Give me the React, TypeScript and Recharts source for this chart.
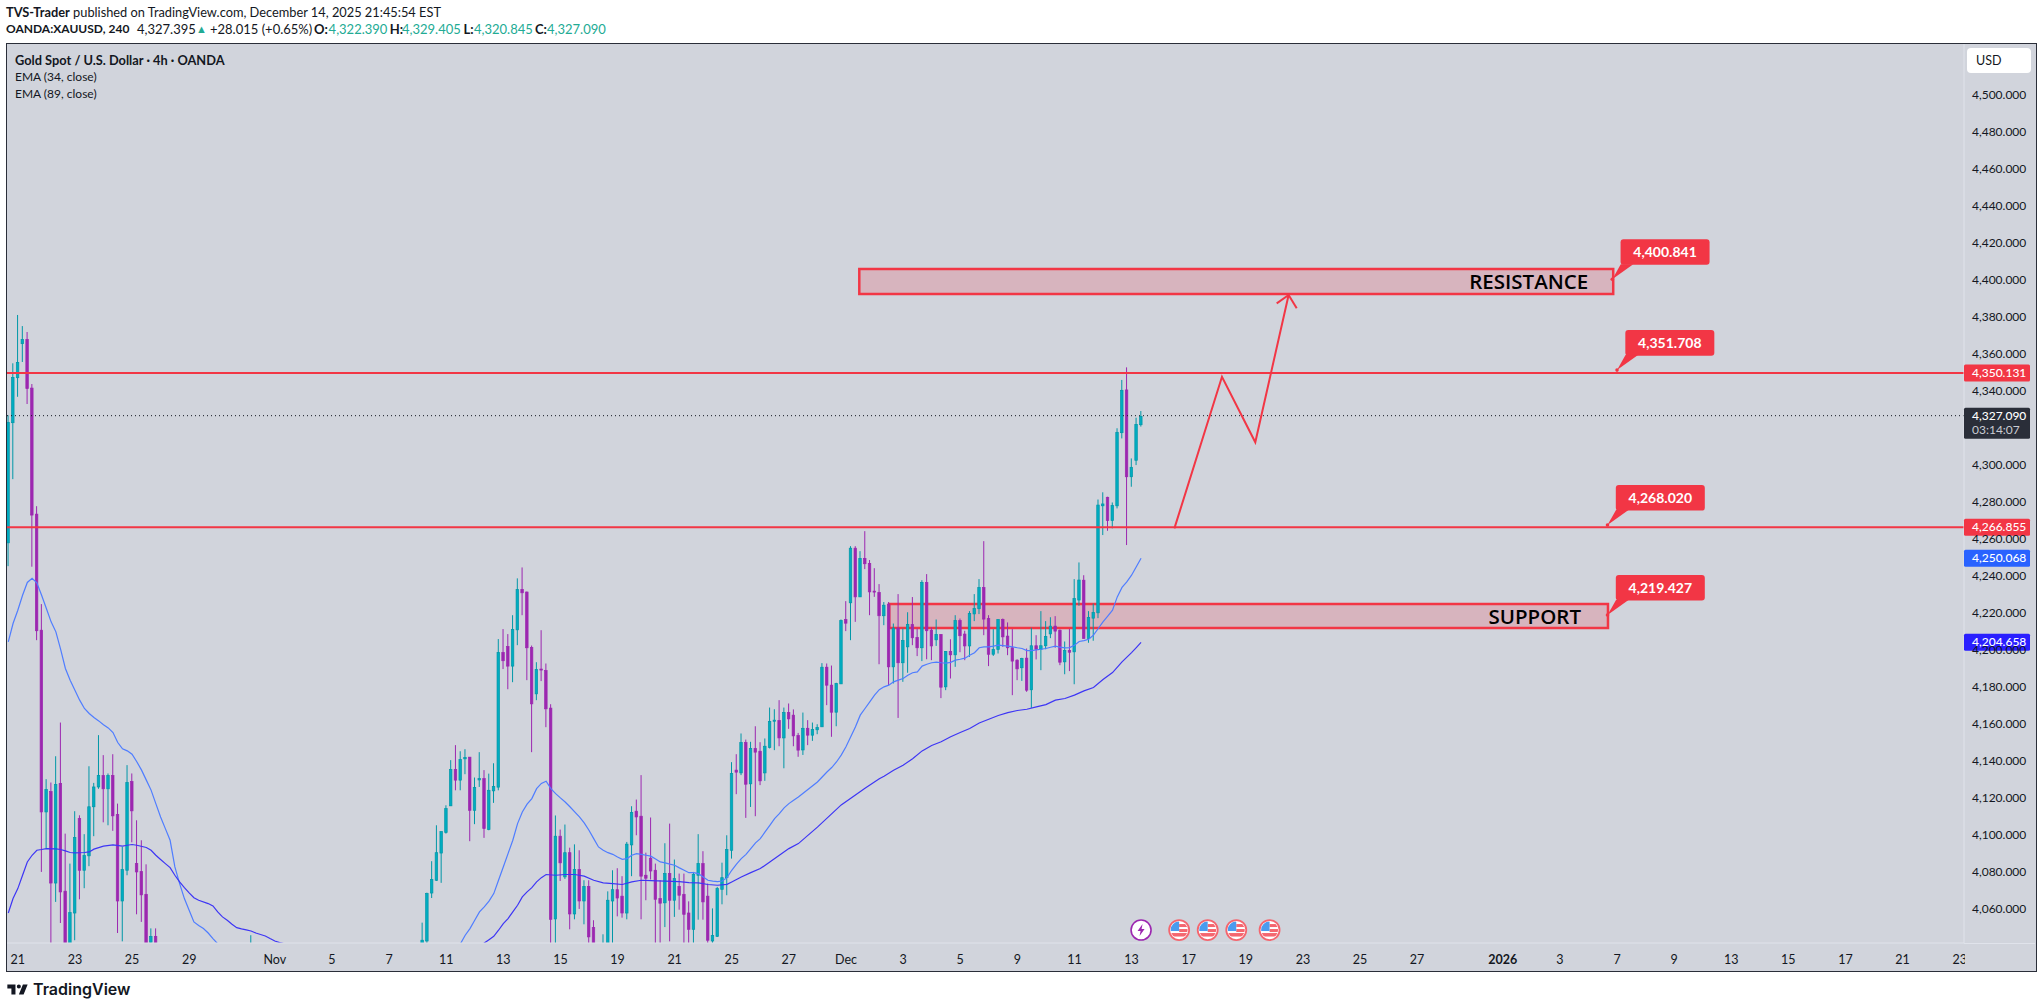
import { ComposedChart, Bar, Line, XAxis, YAxis, ReferenceLine, ReferenceArea, ReferenceDot } from 'recharts';

const BG = '#D1D4DC';
const RED = '#F23645';
const TEAL = '#00ACC1';
const TEAL_EDGE = '#0097A7';
const PURPLE = '#9C27B0';
const TEXT = '#131722';
const FONT = 'Lato, sans-serif';

// [candle index, open, high, low, close], 4h bars
// wicks and bodies that leave the bottom of the pane are only guesses
const octoberCandles = [
  [0, 4257.6, 4326.5, 4245.0, 4322.7], [1, 4322.5, 4354.6, 4292.0, 4347.0], [2, 4346.8, 4380.7, 4336.5, 4355.1],
  [3, 4365.2, 4374.7, 4355.3, 4367.5], [4, 4367.5, 4371.5, 4332.6, 4340.9], [5, 4341.2, 4343.4, 4244.7, 4272.6],
  [6, 4273.1, 4277.4, 4205.0, 4210.1], [7, 4210.4, 4224.5, 4079.8, 4112.2], [8, 4112.2, 4129.9, 4092.4, 4124.3],
  [9, 4123.2, 4128.1, 4035.0, 4073.8], [10, 4073.8, 4142.3, 4063.6, 4127.0], [11, 4127.6, 4160.5, 4052.2, 4069.0],
  [12, 4069.4, 4100.5, 4020.0, 4030.0], [13, 4030.0, 4084.3, 4020.0, 4057.8], [14, 4057.6, 4112.6, 4042.9, 4098.4],
  [15, 4108.6, 4110.4, 4065.0, 4080.7], [16, 4080.7, 4100.2, 4071.0, 4088.6], [17, 4088.5, 4136.9, 4082.9, 4115.0],
  [18, 4115.0, 4127.9, 4099.1, 4125.7], [19, 4125.7, 4153.7, 4124.7, 4131.9], [20, 4131.9, 4142.9, 4106.6, 4124.7],
  [21, 4124.7, 4133.0, 4105.0, 4131.9], [22, 4131.9, 4143.4, 4102.0, 4110.1], [23, 4110.8, 4116.7, 4046.8, 4064.1],
  [24, 4064.1, 4093.3, 4042.3, 4081.1], [25, 4080.7, 4137.5, 4078.0, 4128.1], [26, 4128.6, 4133.0, 4095.8, 4112.8],
  [27, 4084.3, 4107.7, 4056.9, 4079.8], [28, 4080.0, 4096.9, 4052.8, 4067.4], [29, 4067.7, 4083.9, 4030.0, 4038.0],
  [30, 4041.8, 4049.3, 4035.0, 4045.0], [31, 4045.0, 4049.3, 4030.0, 4036.0], [51, 4025.0, 4045.6, 4020.0, 4035.0],
];

const novemberCandles = [
  [87, 4035.0, 4052.4, 4030.0, 4042.9], [88, 4042.5, 4068.6, 4041.0, 4068.1], [89, 4068.4, 4085.6, 4065.7, 4075.7],
  [90, 4075.3, 4105.0, 4074.9, 4090.2], [91, 4090.0, 4101.6, 4073.9, 4101.6], [92, 4101.1, 4115.8, 4100.5, 4114.0],
  [93, 4115.5, 4140.2, 4115.4, 4135.1], [94, 4135.1, 4148.3, 4123.9, 4129.4], [95, 4129.4, 4145.0, 4123.9, 4140.5],
  [96, 4140.9, 4146.1, 4132.6, 4141.6], [97, 4141.8, 4141.9, 4096.4, 4113.1], [98, 4113.1, 4130.8, 4105.6, 4125.4],
  [99, 4129.5, 4144.5, 4125.7, 4130.2], [100, 4130.2, 4134.8, 4098.2, 4103.2], [101, 4102.7, 4132.9, 4102.3, 4123.9],
  [102, 4123.6, 4138.5, 4117.1, 4125.9], [103, 4125.6, 4205.6, 4123.9, 4198.4], [104, 4198.4, 4211.0, 4189.4, 4193.9],
  [105, 4201.6, 4208.3, 4178.5, 4191.0], [106, 4191.0, 4218.5, 4182.3, 4210.8], [107, 4210.6, 4238.4, 4202.3, 4232.4],
  [108, 4232.4, 4244.3, 4218.5, 4230.6], [109, 4231.0, 4231.3, 4183.4, 4200.9], [110, 4201.1, 4202.1, 4144.5, 4170.6],
  [111, 4176.0, 4193.1, 4172.6, 4189.2], [112, 4189.4, 4210.4, 4182.9, 4189.0], [113, 4188.6, 4192.4, 4158.0, 4167.9],
  [114, 4168.3, 4170.4, 4040.0, 4054.2], [115, 4054.4, 4110.3, 4040.0, 4099.1], [116, 4099.1, 4102.7, 4074.9, 4084.7],
  [117, 4077.1, 4105.4, 4076.0, 4090.2], [118, 4090.2, 4092.9, 4048.8, 4057.1], [119, 4057.1, 4094.7, 4054.2, 4081.1],
  [120, 4081.1, 4091.5, 4059.8, 4064.1], [121, 4064.1, 4075.3, 4051.5, 4072.0], [122, 4072.0, 4075.3, 4040.0, 4044.7],
  [123, 4049.7, 4053.7, 4030.0, 4035.0], [125, 4035.0, 4046.1, 4030.0, 4040.0], [126, 4036.0, 4069.3, 4030.0, 4064.5],
  [127, 4064.1, 4080.7, 4040.0, 4070.2], [128, 4070.2, 4081.8, 4055.8, 4065.7], [129, 4066.7, 4077.5, 4055.1, 4057.6],
  [130, 4057.6, 4096.0, 4054.2, 4094.8], [131, 4094.4, 4115.3, 4077.5, 4111.9], [132, 4112.6, 4118.9, 4099.6, 4109.5],
  [133, 4109.9, 4132.1, 4054.2, 4077.5], [134, 4078.0, 4090.2, 4064.5, 4076.4], [135, 4087.2, 4109.2, 4075.7, 4080.3],
  [136, 4080.7, 4084.3, 4040.0, 4065.0], [137, 4065.4, 4075.3, 4040.0, 4062.9], [138, 4063.1, 4095.3, 4050.0, 4078.9],
  [139, 4078.9, 4105.9, 4042.3, 4064.5], [140, 4064.5, 4086.5, 4055.5, 4076.2], [141, 4072.0, 4078.9, 4059.4, 4067.2],
  [142, 4067.7, 4078.9, 4040.0, 4056.9], [143, 4057.6, 4063.9, 4040.0, 4048.8], [144, 4048.8, 4079.8, 4040.0, 4078.5],
  [145, 4078.0, 4100.2, 4054.0, 4084.3], [146, 4084.3, 4091.0, 4054.0, 4063.6], [147, 4066.7, 4073.5, 4040.0, 4042.9],
  [148, 4042.5, 4060.1, 4040.0, 4045.4], [149, 4045.0, 4071.7, 4044.7, 4070.8], [150, 4070.4, 4084.8, 4062.3, 4076.7],
  [151, 4076.7, 4099.6, 4067.2, 4091.9], [152, 4091.5, 4139.1, 4087.0, 4132.9], [153, 4134.8, 4143.4, 4121.8, 4133.7],
  [154, 4133.3, 4154.6, 4132.1, 4149.7], [155, 4149.7, 4151.3, 4109.0, 4127.2], [156, 4127.4, 4150.1, 4114.9, 4146.5],
  [157, 4146.5, 4158.5, 4109.9, 4144.5], [158, 4145.0, 4149.9, 4126.7, 4129.0], [159, 4133.3, 4151.9, 4129.0, 4147.7],
  [160, 4147.0, 4168.6, 4146.5, 4161.1], [161, 4161.2, 4167.7, 4145.6, 4161.8], [162, 4161.6, 4172.6, 4147.7, 4152.2],
  [163, 4152.2, 4168.6, 4135.8, 4165.9], [164, 4165.9, 4170.8, 4157.1, 4162.5], [165, 4164.5, 4167.6, 4147.7, 4153.3],
  [166, 4153.5, 4154.9, 4142.0, 4145.6], [167, 4145.7, 4165.9, 4143.0, 4157.4], [168, 4157.4, 4161.8, 4148.3, 4153.7],
  [169, 4153.7, 4160.5, 4150.6, 4156.7], [170, 4156.6, 4159.6, 4154.2, 4157.8], [171, 4158.2, 4192.6, 4158.2, 4190.4],
  [172, 4190.4, 4192.4, 4169.9, 4180.7], [173, 4180.7, 4191.3, 4152.8, 4166.1], [174, 4166.1, 4182.0, 4158.5, 4181.6],
  [175, 4181.4, 4216.2, 4181.4, 4215.6],
];

const decemberCandles = [
  [176, 4216.2, 4226.1, 4209.9, 4214.2], [177, 4225.2, 4255.8, 4205.0, 4254.7], [178, 4254.7, 4255.8, 4214.9, 4228.4],
  [179, 4228.4, 4253.1, 4228.4, 4249.2], [180, 4249.2, 4263.9, 4243.4, 4246.3], [181, 4246.5, 4248.3, 4218.5, 4231.1],
  [182, 4231.5, 4243.9, 4228.4, 4231.0], [183, 4230.8, 4235.3, 4192.0, 4218.2], [184, 4218.2, 4225.6, 4213.1, 4223.9],
  [185, 4224.5, 4225.6, 4180.7, 4190.6], [186, 4190.6, 4214.0, 4181.6, 4211.5], [187, 4211.5, 4229.9, 4163.0, 4192.8],
  [188, 4192.8, 4211.3, 4182.5, 4204.8], [189, 4201.4, 4220.1, 4187.4, 4213.5], [190, 4213.5, 4228.3, 4202.3, 4206.3],
  [191, 4206.5, 4211.3, 4196.4, 4200.9], [192, 4200.9, 4237.4, 4193.7, 4236.2], [193, 4236.2, 4240.7, 4194.7, 4210.1],
  [194, 4210.4, 4211.9, 4194.2, 4201.9], [195, 4205.2, 4216.2, 4201.9, 4208.1], [196, 4208.1, 4208.3, 4173.7, 4179.6],
  [197, 4179.8, 4199.1, 4178.0, 4198.9], [198, 4198.9, 4205.5, 4184.3, 4197.1], [199, 4197.1, 4218.5, 4190.6, 4215.6],
  [200, 4215.6, 4216.7, 4198.5, 4207.4], [201, 4208.3, 4210.1, 4194.2, 4201.9], [202, 4201.9, 4220.7, 4196.0, 4219.4],
  [203, 4219.2, 4229.9, 4215.3, 4222.1], [204, 4222.0, 4238.0, 4219.1, 4233.5], [205, 4233.5, 4258.5, 4207.7, 4216.4],
  [206, 4216.7, 4218.5, 4191.0, 4197.4], [207, 4197.4, 4211.0, 4196.5, 4200.0], [208, 4200.0, 4216.2, 4197.8, 4216.2],
  [209, 4216.2, 4216.7, 4201.4, 4206.8], [210, 4207.2, 4214.6, 4196.9, 4200.9], [211, 4200.9, 4211.0, 4175.3, 4193.7],
  [212, 4194.2, 4194.7, 4183.4, 4189.5], [213, 4190.1, 4195.5, 4183.0, 4195.1], [214, 4195.3, 4200.5, 4177.1, 4178.0],
  [215, 4178.2, 4211.7, 4168.4, 4202.0], [216, 4202.0, 4207.7, 4194.6, 4200.1], [217, 4200.1, 4220.7, 4188.8, 4202.0],
  [218, 4202.0, 4215.3, 4200.1, 4207.0], [219, 4208.4, 4217.4, 4206.1, 4212.6], [220, 4212.6, 4218.0, 4200.9, 4209.9],
  [221, 4210.4, 4210.8, 4191.5, 4193.1], [222, 4193.3, 4204.3, 4186.6, 4199.4], [223, 4199.4, 4211.1, 4188.3, 4198.5],
  [224, 4198.7, 4238.0, 4181.2, 4227.5], [225, 4226.7, 4247.0, 4223.6, 4237.5], [226, 4237.4, 4240.1, 4205.9, 4205.9],
  [227, 4205.9, 4220.7, 4203.6, 4217.3], [228, 4216.9, 4224.8, 4204.7, 4220.0], [229, 4219.8, 4281.0, 4216.9, 4278.0],
  [230, 4277.6, 4284.9, 4261.8, 4278.6], [231, 4282.2, 4282.5, 4264.1, 4269.6], [232, 4269.6, 4279.4, 4265.4, 4277.8],
  [233, 4277.6, 4319.5, 4276.2, 4317.3], [234, 4317.1, 4345.6, 4314.0, 4340.0], [235, 4340.2, 4352.4, 4256.4, 4293.3],
  [236, 4293.3, 4303.2, 4287.9, 4298.4], [237, 4302.2, 4325.2, 4299.6, 4321.6], [238, 4321.4, 4328.8, 4320.4, 4325.9],
];

const ema34Points = [
  [0, 4204.1], [1, 4214.0], [2, 4221.2], [3, 4229.3], [4, 4236.2], [5, 4238.4], [6, 4236.0], [7, 4229.3], [8, 4222.1],
  [9, 4214.9], [10, 4209.5], [11, 4200.0], [12, 4189.7], [13, 4183.4], [14, 4178.0], [15, 4172.6], [16, 4168.1],
  [17, 4165.4], [18, 4163.2], [19, 4161.4], [20, 4159.3], [21, 4157.6], [22, 4155.1], [23, 4149.7], [24, 4146.3],
  [25, 4145.2], [26, 4143.4], [27, 4139.3], [28, 4134.8], [29, 4129.4], [30, 4124.0], [31, 4116.7], [32, 4109.5],
  [33, 4103.2], [34, 4096.9], [35, 4082.5], [36, 4073.5], [37, 4065.4], [38, 4059.1], [39, 4052.8], [40, 4050.9],
  [41, 4049.2], [42, 4046.8], [43, 4043.8], [44, 4041.0], [45, 4030.0], [92, 4030.0], [95, 4041.0], [96, 4045.6],
  [97, 4049.2], [98, 4053.7], [99, 4058.2], [100, 4060.9], [101, 4064.0], [102, 4068.1], [103, 4075.3], [104, 4082.5],
  [105, 4089.7], [106, 4096.9], [107, 4105.9], [108, 4112.2], [109, 4116.4], [110, 4119.4], [111, 4124.8], [112, 4127.6],
  [113, 4128.8], [114, 4124.8], [115, 4122.1], [116, 4119.8], [117, 4117.6], [118, 4115.0], [119, 4112.2], [120, 4109.5],
  [121, 4106.3], [122, 4102.3], [123, 4097.8], [124, 4093.3], [125, 4091.5], [126, 4090.2], [127, 4089.3], [128, 4087.9],
  [129, 4086.6], [130, 4087.0], [131, 4088.8], [132, 4089.7], [133, 4089.3], [134, 4088.8], [135, 4088.3], [136, 4086.8],
  [137, 4085.2], [138, 4084.7], [139, 4084.0], [140, 4083.4], [141, 4082.0], [142, 4080.7], [143, 4079.4], [144, 4079.4],
  [145, 4078.9], [146, 4077.1], [147, 4075.3], [148, 4074.8], [149, 4074.6], [150, 4074.9], [151, 4076.7], [152, 4080.7],
  [153, 4084.0], [154, 4087.0], [155, 4089.3], [156, 4092.4], [157, 4095.5], [158, 4097.8], [159, 4101.4], [160, 4105.0],
  [161, 4108.6], [162, 4111.3], [163, 4114.4], [164, 4116.7], [165, 4118.5], [166, 4120.3], [170, 4128.4], [171, 4131.1],
  [172, 4133.8], [173, 4136.2], [174, 4139.2], [175, 4142.9], [176, 4147.4], [177, 4152.8], [178, 4158.2], [179, 4164.5],
  [180, 4168.1], [181, 4171.7], [182, 4175.3], [183, 4178.3], [184, 4179.8], [185, 4180.7], [186, 4182.5], [187, 4183.4],
  [188, 4184.3], [189, 4186.1], [190, 4187.4], [191, 4187.9], [192, 4191.0], [193, 4192.0], [194, 4192.8], [195, 4193.1],
  [196, 4192.8], [197, 4192.6], [198, 4193.0], [199, 4194.2], [200, 4194.7], [201, 4195.3], [202, 4196.9], [203, 4198.2],
  [204, 4200.9], [205, 4201.4], [206, 4201.4], [207, 4201.8], [208, 4202.3], [209, 4202.1], [210, 4201.8], [211, 4201.4],
  [212, 4200.9], [213, 4200.5], [214, 4199.4], [215, 4199.4], [216, 4199.8], [217, 4200.1], [218, 4200.5], [219, 4201.2],
  [220, 4201.8], [221, 4201.2], [222, 4200.9], [223, 4201.0], [224, 4202.3], [225, 4204.3], [226, 4204.8], [227, 4205.5],
  [228, 4207.7], [229, 4211.3], [230, 4214.9], [231, 4218.0], [232, 4221.2], [233, 4228.4], [234, 4233.5], [235, 4236.5],
  [236, 4240.1], [237, 4244.7], [238, 4249.3],
];

const ema89Points = [
  [0, 4057.6], [1, 4065.4], [2, 4070.8], [3, 4078.0], [4, 4085.2], [5, 4088.8], [6, 4091.5], [7, 4091.9], [8, 4092.4],
  [10, 4092.2], [11, 4091.9], [12, 4091.2], [13, 4090.3], [14, 4090.1], [16, 4090.3], [17, 4090.6], [18, 4092.1],
  [20, 4093.7], [22, 4094.4], [24, 4093.7], [25, 4094.2], [26, 4094.6], [27, 4094.2], [29, 4093.0], [30, 4091.5],
  [31, 4088.8], [32, 4086.5], [33, 4084.3], [34, 4082.1], [35, 4078.0], [36, 4074.4], [37, 4071.3], [38, 4068.5],
  [39, 4065.9], [40, 4064.5], [42, 4062.7], [43, 4061.4], [44, 4058.2], [45, 4055.5], [46, 4053.7], [47, 4051.5],
  [48, 4049.7], [49, 4049.0], [50, 4048.5], [51, 4047.9], [52, 4046.8], [53, 4046.0], [54, 4045.2], [55, 4043.8],
  [56, 4042.5], [57, 4041.6], [58, 4041.0], [60, 4037.0], [97, 4030.0], [99, 4038.0], [100, 4041.4], [101, 4043.2],
  [102, 4045.0], [103, 4048.3], [104, 4051.9], [105, 4054.6], [106, 4058.2], [107, 4061.8], [108, 4066.3], [109, 4069.0],
  [110, 4071.3], [111, 4074.4], [112, 4076.7], [113, 4078.4], [115, 4078.0], [117, 4078.4], [119, 4078.4], [121, 4077.5],
  [123, 4075.3], [125, 4073.9], [127, 4073.5], [129, 4073.0], [131, 4074.4], [133, 4075.3], [135, 4075.1], [138, 4074.8],
  [141, 4074.6], [143, 4074.0], [145, 4073.9], [147, 4073.0], [149, 4072.6], [151, 4073.1], [152, 4074.4], [154, 4077.1],
  [156, 4079.4], [158, 4081.6], [160, 4085.2], [162, 4088.8], [164, 4092.4], [166, 4095.1], [170, 4104.0], [175, 4116.0],
  [180, 4125.0], [183, 4130.1], [184, 4131.5], [186, 4134.7], [188, 4137.4], [190, 4141.0], [192, 4145.2], [194, 4148.1],
  [196, 4150.1], [198, 4152.8], [200, 4155.1], [202, 4157.3], [204, 4160.3], [206, 4162.3], [208, 4164.3], [210, 4165.9],
  [212, 4167.0], [214, 4167.7], [216, 4169.0], [218, 4170.2], [220, 4172.6], [222, 4173.5], [224, 4175.3], [226, 4177.6],
  [228, 4179.4], [230, 4183.8], [232, 4187.5], [234, 4193.3], [236, 4198.3], [237, 4201.0], [238, 4203.8],
];

// the values above were read against the tick text, which sits a bit above its true level
const READ_SHIFT = 0.8;

// projected zigzag drawn on the chart
const arrowPoints = [[245, 4266.2], [255, 4348.1], [262, 4312.7], [269, 4392.3]];
const arrowHead = [[266.5, 4387.8], [269, 4392.3], [270.7, 4385.1]];

// 4,320 is left out: the last price tag covers it in the reference
const priceTicks = [
  4060, 4080, 4100, 4120, 4140, 4160, 4180, 4200, 4220, 4240, 4260, 4280, 4300, 4340, 4360, 4380, 4400, 4420,
  4440, 4460, 4480, 4500,
];
const timeTicks = [
  2, 14, 26, 38, 56, 68, 80, 92, 104, 116, 128, 140, 152, 164, 176, 188, 200, 212, 224, 236, 248, 260, 272, 284, 296,
  314, 326, 338, 350, 362, 374, 386, 398, 410,
];
const timeLabels = [
  '21', '23', '25', '29', 'Nov', '5', '7', '11', '13', '15', '19', '21', '25', '27', 'Dec', '3', '5', '9', '11', '13',
  '17', '19', '23', '25', '27', '2026', '3', '7', '9', '13', '15', '17', '21', '23',
];

const callouts = [
  { i: 337, price: 4400.841 },
  { i: 338, price: 4351.708 },
  { i: 336, price: 4268.02 },
  { i: 336, price: 4219.427 },
];
const usEvents = [246, 252, 258, 265];
const earningsEvent = 238;
const EVENT_LEVEL = 4049.2;

const table: any[] = [];
for (let i = 0; i <= 271; i++) table.push({ i });
[...octoberCandles, ...novemberCandles, ...decemberCandles].forEach(([i, o, h, l, c]) => {
  Object.assign(table[i], {
    open: o + READ_SHIFT,
    high: h + READ_SHIFT,
    low: l + READ_SHIFT,
    close: c + READ_SHIFT,
  });
});
ema34Points.forEach(([i, v]) => (table[i].ema34 = v + READ_SHIFT));
ema89Points.forEach(([i, v]) => (table[i].ema89 = v + READ_SHIFT));
arrowPoints.forEach(([i, v]) => (table[i].arrow = v));

const fmt = (v: number) => v.toLocaleString('en-US', { minimumFractionDigits: 3, maximumFractionDigits: 3 });

function Candle(props: any) {
  const { x, y, width, height, payload } = props;
  if (payload.high == null) return null;
  const h = Math.abs(height);
  const k = h / (payload.high - payload.low);
  const up = payload.close >= payload.open;
  const top = y + (payload.high - Math.max(payload.open, payload.close)) * k;
  const bodyH = Math.max(Math.abs(payload.close - payload.open) * k, 1);
  const cx = x + width / 2;
  return (
    <g>
      <line x1={cx} x2={cx} y1={y} y2={y + h} stroke={up ? TEAL_EDGE : PURPLE} strokeWidth={1} />
      <rect
        x={cx - 1.25}
        y={top}
        width={2.5}
        height={bodyH}
        fill={up ? TEAL : PURPLE}
        stroke={up ? TEAL_EDGE : PURPLE}
        strokeWidth={0.7}
      />
    </g>
  );
}

// price tag sitting on the axis, drawn as the label of a reference line
const priceTag = (text: string, fill: string, sub?: string) => (props: any) => {
  const { x, y, width } = props.viewBox;
  const left = x + width;
  return (
    <g>
      <rect x={left} y={sub ? y - 8 : y - 8.5} width={66} height={sub ? 31 : 17} rx={1.5} fill={fill} />
      <text x={left + 8} y={y + 4} fill="#fff" fontSize={12} fontFamily={FONT} fontWeight={500}>
        {text}
      </text>
      {sub && (
        <text x={left + 8} y={y + 18} fill="#C9CBD2" fontSize={12} fontFamily={FONT}>
          {sub}
        </text>
      )}
    </g>
  );
};

const zoneLabel = (text: string, inset: number) => (props: any) => {
  const { x, y, width, height } = props.viewBox;
  return (
    <text
      x={x + width - inset}
      y={y + height / 2 + 7.5}
      textAnchor="end"
      fill="#000"
      fontSize={20.5}
      fontWeight={600}
      fontFamily="'Open Sans', sans-serif"
    >
      {text}
    </text>
  );
};

function Callout(props: any) {
  const { cx, cy, text } = props;
  return (
    <g>
      <polygon points={`${cx},${cy} ${cx + 8.5},${cy - 15} ${cx + 21},${cy - 15}`} fill={RED} />
      <rect x={cx + 8.3} y={cy - 40} width={89} height={25.6} rx={3} fill={RED} />
      <circle cx={cx} cy={cy} r={1.8} fill={RED} />
      <text
        x={cx + 52.8}
        y={cy - 22}
        textAnchor="middle"
        fill="#fff"
        fontSize={14}
        fontWeight={700}
        fontFamily={FONT}
      >
        {text}
      </text>
    </g>
  );
}

function FlagEvent(props: any) {
  const { cx, cy, id } = props;
  return (
    <g>
      <clipPath id={`flag-${id}`}>
        <circle cx={cx} cy={cy} r={8.5} />
      </clipPath>
      <circle cx={cx} cy={cy} r={10} fill="#fff" stroke="#F4666F" strokeWidth={1.8} />
      <g clipPath={`url(#flag-${id})`}>
        <rect x={cx} y={cy - 6} width={10} height={3} fill="#F4666F" />
        <rect x={cx} y={cy - 1} width={10} height={3} fill="#F4666F" />
        <rect x={cx - 10} y={cy + 3} width={20} height={3.5} fill="#F4666F" />
        <rect x={cx - 10} y={cy - 9} width={10} height={10} fill="#4A9BEF" />
      </g>
    </g>
  );
}

function BoltEvent(props: any) {
  const { cx, cy } = props;
  return (
    <g>
      <circle cx={cx} cy={cy} r={10} fill="#fff" stroke={PURPLE} strokeWidth={1.6} />
      <polygon
        points={`${cx + 1.5},${cy - 6} ${cx - 3.5},${cy + 1} ${cx - 0.5},${cy + 1} ${cx - 1.5},${cy + 6} ${cx + 3.5},${cy - 1} ${cx + 0.5},${cy - 1}`}
        fill={PURPLE}
      />
    </g>
  );
}

function TimeTick(props: any) {
  const { x, y, payload } = props;
  const label = timeLabels[timeTicks.indexOf(payload.value)];
  return (
    <text
      x={x}
      y={y + 13}
      textAnchor="middle"
      fontSize={12.5}
      fontFamily={FONT}
      fill={TEXT}
      fontWeight={label === '2026' ? 700 : 400}
    >
      {label}
    </text>
  );
}

function ChartPane() {
  return (
    <ComposedChart width={2042} height={1008} data={table} margin={{ top: 44, right: 12, bottom: 37, left: 7 }}>
      <XAxis
        dataKey="i"
        type="number"
        domain={[-0.27, 410.9]}
        allowDataOverflow
        ticks={timeTicks}
        interval={0}
        height={28}
        tick={<TimeTick />}
        tickLine={false}
        axisLine={{ stroke: '#E0E3EB' }}
      />
      <YAxis
        orientation="right"
        type="number"
        domain={[4042.2, 4527.9]}
        allowDataOverflow
        ticks={priceTicks}
        interval={0}
        width={66}
        tickFormatter={fmt}
        tickLine={false}
        tickMargin={2}
        tick={{ fontSize: 12, fill: TEXT, fontFamily: FONT, textAnchor: 'start', dy: -1 }}
        axisLine={{ stroke: '#E0E3EB' }}
      />
      <ReferenceArea
        x1={178.8}
        x2={337.2}
        y1={4392.8}
        y2={4406.3}
        fill={RED}
        fillOpacity={0.2}
        stroke={RED}
        strokeOpacity={1}
        strokeWidth={2.5}
        label={zoneLabel('RESISTANCE', 25)}
      />
      <ReferenceArea
        x1={185.1}
        x2={336.1}
        y1={4212.4}
        y2={4225.3}
        fill={RED}
        fillOpacity={0.2}
        stroke={RED}
        strokeOpacity={1}
        strokeWidth={2.5}
        label={zoneLabel('SUPPORT', 27)}
      />
      <ReferenceLine y={4350.131} stroke={RED} strokeWidth={2} />
      <ReferenceLine y={4266.855} stroke={RED} strokeWidth={2} />
      <ReferenceLine y={4327.09} stroke={TEXT} strokeDasharray="1 3" />
      <Line
        dataKey="ema34"
        stroke="#4F7DFF"
        strokeWidth={1.2}
        dot={false}
        connectNulls
        isAnimationActive={false}
      />
      <Line
        dataKey="ema89"
        stroke="#3D35F5"
        strokeWidth={1.2}
        dot={false}
        connectNulls
        isAnimationActive={false}
      />
      <Bar
        dataKey={(d: any) => (d.high == null ? null : [d.low, d.high])}
        barSize={5}
        shape={<Candle />}
        isAnimationActive={false}
      />
      <Line
        dataKey="arrow"
        stroke={RED}
        strokeWidth={2}
        dot={false}
        connectNulls
        type="linear"
        isAnimationActive={false}
      />
      <ReferenceLine
        segment={[
          { x: arrowHead[0][0], y: arrowHead[0][1] },
          { x: arrowHead[1][0], y: arrowHead[1][1] },
        ]}
        stroke={RED}
        strokeWidth={2}
      />
      <ReferenceLine
        segment={[
          { x: arrowHead[2][0], y: arrowHead[2][1] },
          { x: arrowHead[1][0], y: arrowHead[1][1] },
        ]}
        stroke={RED}
        strokeWidth={2}
      />
      {callouts.map(c => (
        <ReferenceDot
          key={c.price}
          x={c.i}
          y={c.price}
          r={2}
          shape={(p: any) => <Callout {...p} text={fmt(c.price)} />}
        />
      ))}
      <ReferenceDot x={earningsEvent} y={EVENT_LEVEL} r={10} shape={(p: any) => <BoltEvent {...p} />} />
      {usEvents.map(e => (
        <ReferenceDot key={e} x={e} y={EVENT_LEVEL} r={10} shape={(p: any) => <FlagEvent {...p} id={e} />} />
      ))}
      <ReferenceLine y={4350.131} stroke="none" zIndex={1000} label={priceTag('4,350.131', RED)} />
      <ReferenceLine y={4266.855} stroke="none" zIndex={1000} label={priceTag('4,266.855', RED)} />
      <ReferenceLine y={4327.09} stroke="none" zIndex={1000} label={priceTag('4,327.090', '#2A2E39', '03:14:07')} />
      <ReferenceLine y={4250.068} stroke="none" zIndex={1000} label={priceTag('4,250.068', '#2962FF')} />
      <ReferenceLine y={4204.658} stroke="none" zIndex={1000} label={priceTag('4,204.658', '#2A1FFF')} />
    </ComposedChart>
  );
}

const abs = (left: number, top: number): any => ({
  position: 'absolute',
  left,
  top,
  lineHeight: '16px',
  whiteSpace: 'nowrap',
});

const ohlc = [
  ['O:', '4,322.390', 314, 328.6],
  ['H:', '4,329.405', 389.7, 402],
  ['L:', '4,320.845', 463.4, 474],
  ['C:', '4,327.090', 535, 547],
];

export default function App() {
  return (
    <div
      style={{
        position: 'absolute',
        left: 0,
        top: 0,
        width: 2042,
        height: 1008,
        background: '#fff',
        overflow: 'hidden',
        fontFamily: FONT,
        fontSize: 13,
        color: TEXT,
      }}
    >
      <div style={{ ...abs(6, 4), fontSize: 12.8 }}>
        <b style={{ fontWeight: 700 }}>TVS-Trader</b> published on TradingView.com, December 14, 2025 21:45:54 EST
      </div>
      <div style={{ ...abs(6, 21), fontWeight: 700, fontSize: 12 }}>OANDA:XAUUSD, 240</div>
      <div style={abs(137, 21)}>4,327.395</div>
      <div style={{ ...abs(196, 21), color: '#22AB94', fontSize: 11 }}>▲</div>
      <div style={abs(210, 21)}>+28.015 (+0.65%)</div>
      {ohlc.map(([k, v, kx, vx]) => (
        <div key={k as string}>
          <div style={{ ...abs(kx as number, 21), fontWeight: 700 }}>{k}</div>
          <div style={{ ...abs(vx as number, 21), color: '#22AB94' }}>{v}</div>
        </div>
      ))}
      <div
        style={{
          position: 'absolute',
          left: 5.5,
          top: 43,
          width: 2029,
          height: 927,
          border: '1.5px solid #2A2E39',
          background: BG,
        }}
      />
      <div style={{ ...abs(15, 52), fontWeight: 700, fontSize: 12.8 }}>Gold Spot / U.S. Dollar · 4h · OANDA</div>
      <div style={{ ...abs(15, 69), fontSize: 12 }}>EMA (34, close)</div>
      <div style={{ ...abs(15, 86), fontSize: 12 }}>EMA (89, close)</div>
      <div style={{ position: 'absolute', left: 0, top: 0 }}>
        <ChartPane />
      </div>
      <div style={{ position: 'absolute', left: 1965, top: 944, width: 69, height: 26, background: BG }} />
      <div style={{ position: 'absolute', left: 1964, top: 943, width: 71, height: 1, background: '#E0E3EB' }} />
      <div
        style={{
          ...abs(1967, 48),
          width: 64,
          height: 25,
          lineHeight: '25px',
          background: '#fff',
          borderRadius: 4,
          fontSize: 12.5,
          textIndent: 9,
        }}
      >
        USD
      </div>
      <svg style={{ position: 'absolute', left: 6, top: 983 }} width={23} height={13} viewBox="0 4 34 19">
        <path d="M14 6H2v6h6v9h6V6Zm12 15h-7l6-15h7l-6 15Zm-7-9a3 3 0 1 0 0-6 3 3 0 0 0 0 6Z" fill="#131722" />
      </svg>
      <div style={{ ...abs(33, 981), fontFamily: 'Inter, sans-serif', fontSize: 16, fontWeight: 600 }}>TradingView</div>
    </div>
  );
}
